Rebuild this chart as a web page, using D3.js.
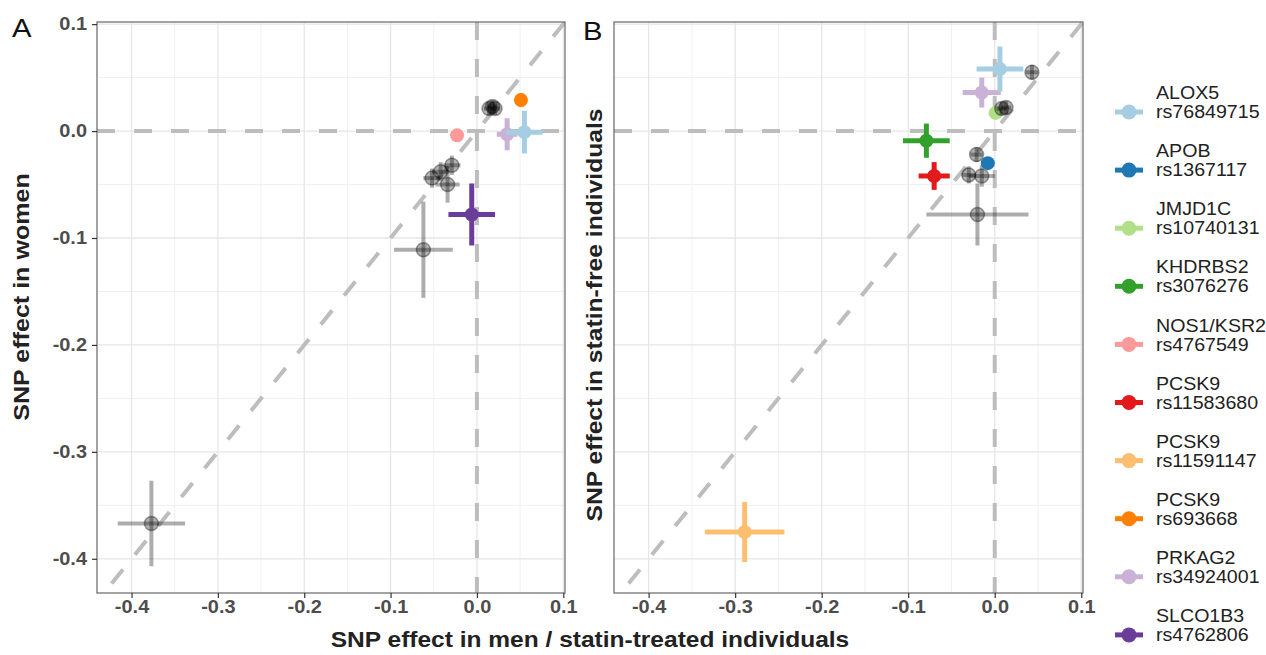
<!DOCTYPE html>
<html>
<head>
<meta charset="utf-8">
<script src="https://cdn.jsdelivr.net/npm/d3@7"></script>
<style>
  html, body { margin: 0; padding: 0; background: #fff; }
  svg { display: block; font-family: "Liberation Sans", Arial, sans-serif; }
</style>
</head>
<body>
<svg id="chart" width="1266" height="655"></svg>
<script>
// ---------- DATA ----------
const genes  = ["ALOX5","APOB","JMJD1C","KHDRBS2","NOS1/KSR2","PCSK9","PCSK9","PCSK9","PRKAG2","SLCO1B3"];
const rsids  = ["rs76849715","rs1367117","rs10740131","rs3076276","rs4767549","rs11583680","rs11591147","rs693668","rs34924001","rs4762806"];
const colors = ["#a6cee3","#1f78b4","#b2df8a","#33a02c","#fb9a99","#e31a1c","#fdbf6f","#ff7f00","#cab2d6","#6a3d9a"];

// Panel A: men (x) vs women (y)
const aSnp  = ["other","other","other","other","other","other","other","other","other","rs4767549","rs693668","rs34924001","rs76849715","rs4762806"];
const aX    = [-0.377,-0.062,-0.052,-0.042,-0.029,-0.034, 0.014, 0.018, 0.021,-0.023, 0.051, 0.035, 0.055,-0.006];
const aXse  = [ 0.039, 0.034, 0.010, 0.010, 0.010, 0.014, 0.006, 0.006, 0.006, 0.006, 0.006, 0.012, 0.021, 0.027];
const aY    = [-0.367,-0.111,-0.044,-0.038,-0.032,-0.050, 0.021, 0.023, 0.021,-0.004, 0.029,-0.003,-0.001,-0.078];
const aYse  = [ 0.040, 0.045, 0.009, 0.009, 0.009, 0.017, 0.006, 0.006, 0.006, 0.006, 0.006, 0.015, 0.020, 0.029];

// Panel B: statin-treated (x) vs statin-free (y)
const bSnp  = ["rs11591147","rs10740131","other","other","other","other","other","other","other","rs1367117","rs11583680","rs3076276","rs34924001","rs76849715"];
const bX    = [-0.289, 0.001, 0.043, 0.008, 0.013,-0.021,-0.030,-0.015,-0.020,-0.008,-0.070,-0.079,-0.015, 0.006];
const bXse  = [ 0.046, 0.005, 0.007, 0.006, 0.006, 0.007, 0.008, 0.015, 0.059, 0.005, 0.018, 0.027, 0.022, 0.027];
const bY    = [-0.375, 0.017, 0.055, 0.021, 0.022,-0.022,-0.041,-0.042,-0.078,-0.030,-0.042,-0.009, 0.036, 0.058];
const bYse  = [ 0.028, 0.005, 0.007, 0.006, 0.006, 0.007, 0.008, 0.010, 0.029, 0.005, 0.013, 0.016, 0.014, 0.021];

const tickValues = [-0.4,-0.3,-0.2,-0.1,0.0,0.1];
const tickLabels = ["-0.4","-0.3","-0.2","-0.1","0.0","0.1"];
const minorValues = [-0.35,-0.25,-0.15,-0.05,0.05];

const xTitle  = "SNP effect in men / statin-treated individuals";
const yTitleA = "SNP effect in women";
const yTitleB = "SNP effect in statin-free individuals";

// ---------- DRAW ----------
const svg = d3.select("#chart");
const pTop = 22, pBottom = 593;
const xDomain = [-0.44, 0.102];
const yDomain = [-0.432, 0.102];
const colorOf = d3.scaleOrdinal().domain(rsids).range(colors);

function stretch(sel, f) {
  sel.each(function () {
    const L = this.getComputedTextLength();
    d3.select(this).attr("textLength", L * f).attr("lengthAdjust", "spacingAndGlyphs");
  });
}

function panel(left, right, snp, xs, xse, ys, yse, showY, id) {
  const x = d3.scaleLinear().domain(xDomain).range([left, right]);
  const y = d3.scaleLinear().domain(yDomain).range([pBottom, pTop]);
  const g = svg.append("g");
  g.append("clipPath").attr("id", id).append("rect")
    .attr("x", left).attr("y", pTop).attr("width", right - left).attr("height", pBottom - pTop);

  // grid
  const grid = g.append("g");
  minorValues.forEach(v => {
    grid.append("line").attr("x1", x(v)).attr("x2", x(v)).attr("y1", pTop).attr("y2", pBottom)
      .attr("stroke", "#f0f0f0").attr("stroke-width", 1);
    grid.append("line").attr("y1", y(v)).attr("y2", y(v)).attr("x1", left).attr("x2", right)
      .attr("stroke", "#f0f0f0").attr("stroke-width", 1);
  });
  tickValues.forEach(v => {
    grid.append("line").attr("x1", x(v)).attr("x2", x(v)).attr("y1", pTop).attr("y2", pBottom)
      .attr("stroke", "#e6e6e6").attr("stroke-width", 1.3);
    grid.append("line").attr("y1", y(v)).attr("y2", y(v)).attr("x1", left).attr("x2", right)
      .attr("stroke", "#e6e6e6").attr("stroke-width", 1.3);
  });

  // reference lines
  const ref = g.append("g").attr("clip-path", `url(#${id})`)
    .attr("stroke", "#bdbdbd").attr("stroke-width", 4).attr("stroke-dasharray", "18,19").attr("fill", "none");
  ref.append("line").attr("x1", left).attr("x2", right).attr("y1", y(0)).attr("y2", y(0));
  ref.append("line").attr("x1", x(0)).attr("x2", x(0)).attr("y1", pTop).attr("y2", pBottom);
  ref.append("line").attr("x1", x(-0.45)).attr("y1", y(-0.45)).attr("x2", x(0.11)).attr("y2", y(0.11));

  // points
  const pts = g.append("g").attr("clip-path", `url(#${id})`);
  snp.forEach((s, i) => {
    const pg = pts.append("g");
    const other = s === "other";
    const col = other ? "#000" : colorOf(s);
    const op = other ? 0.32 : 1;
    const sw = other ? 4 : 5;
    pg.append("line").attr("x1", x(xs[i] - xse[i])).attr("x2", x(xs[i] + xse[i]))
      .attr("y1", y(ys[i])).attr("y2", y(ys[i]))
      .attr("stroke", col).attr("stroke-opacity", op).attr("stroke-width", sw);
    pg.append("line").attr("x1", x(xs[i])).attr("x2", x(xs[i]))
      .attr("y1", y(ys[i] - yse[i])).attr("y2", y(ys[i] + yse[i]))
      .attr("stroke", col).attr("stroke-opacity", op).attr("stroke-width", sw);
    pg.append("circle").attr("cx", x(xs[i])).attr("cy", y(ys[i])).attr("r", 7)
      .attr("fill", col).attr("fill-opacity", other ? 0.3 : 1)
      .attr("stroke", other ? "#000" : "none").attr("stroke-opacity", 0.35).attr("stroke-width", 1.5);
  });

  // border
  g.append("rect").attr("x", left).attr("y", pTop).attr("width", right - left).attr("height", pBottom - pTop)
    .attr("fill", "none").attr("stroke", "#666").attr("stroke-width", 1.2);

  // axes
  const xa = g.append("g").attr("transform", `translate(0,${pBottom})`)
    .call(d3.axisBottom(x).tickValues(tickValues).tickFormat((d, i) => tickLabels[i]).tickSize(5).tickPadding(3));
  xa.select(".domain").remove();
  xa.selectAll("line").attr("stroke", "#333").attr("stroke-width", 1.2);
  xa.selectAll("text").attr("fill", "#4d4d4d").attr("font-size", 17.5).attr("font-weight", "bold")
    .attr("font-family", "Liberation Sans, Arial, sans-serif").call(stretch, 1.14);

  if (showY) {
    const ya = g.append("g").attr("transform", `translate(${left},0)`)
      .call(d3.axisLeft(y).tickValues(tickValues).tickFormat((d, i) => tickLabels[i]).tickSize(5).tickPadding(5));
    ya.select(".domain").remove();
    ya.selectAll("line").attr("stroke", "#333").attr("stroke-width", 1.2);
    ya.selectAll("text").attr("fill", "#4d4d4d").attr("font-size", 17.5).attr("font-weight", "bold")
      .attr("font-family", "Liberation Sans, Arial, sans-serif").call(stretch, 1.14);
  }
  return { x, y };
}

panel(97, 565, aSnp, aX, aXse, aY, aYse, true, "clipA");
panel(614, 1083, bSnp, bX, bXse, bY, bYse, false, "clipB");

// titles
svg.append("text").attr("x", 590).attr("y", 647).attr("text-anchor", "middle")
  .attr("font-size", 21.5).attr("font-weight", "bold").attr("fill", "#222").text(xTitle).call(stretch, 1.14);
svg.append("text").attr("transform", "translate(29,297) rotate(-90)").attr("text-anchor", "middle")
  .attr("font-size", 22).attr("font-weight", "bold").attr("fill", "#222").text(yTitleA).call(stretch, 1.14);
svg.append("text").attr("transform", "translate(602,315) rotate(-90)").attr("text-anchor", "middle")
  .attr("font-size", 22).attr("font-weight", "bold").attr("fill", "#222").text(yTitleB).call(stretch, 1.12);

// panel tags
svg.append("text").attr("x", 12).attr("y", 37).attr("font-size", 25).attr("fill", "#111").text("A").call(stretch, 1.17);
svg.append("text").attr("x", 583).attr("y", 40).attr("font-size", 25).attr("fill", "#111").text("B").call(stretch, 1.17);

// legend
const leg = svg.append("g");
rsids.forEach((r, i) => {
  const y0 = 93 + i * 58.1;
  const it = leg.append("g");
  it.append("line").attr("x1", 1115).attr("x2", 1143).attr("y1", y0 + 19).attr("y2", y0 + 19)
    .attr("stroke", colors[i]).attr("stroke-width", 5);
  it.append("circle").attr("cx", 1129).attr("cy", y0 + 19).attr("r", 7.5).attr("fill", colors[i]);
  it.append("text").attr("x", 1156).attr("y", y0).attr("dy", "0.35em")
    .attr("font-size", 17.5).attr("fill", "#222").text(genes[i]).call(stretch, 1.12);
  it.append("text").attr("x", 1156).attr("y", y0 + 19).attr("dy", "0.35em")
    .attr("font-size", 17.5).attr("fill", "#222").text(r).call(stretch, 1.12);
});
</script>
</body>
</html>
